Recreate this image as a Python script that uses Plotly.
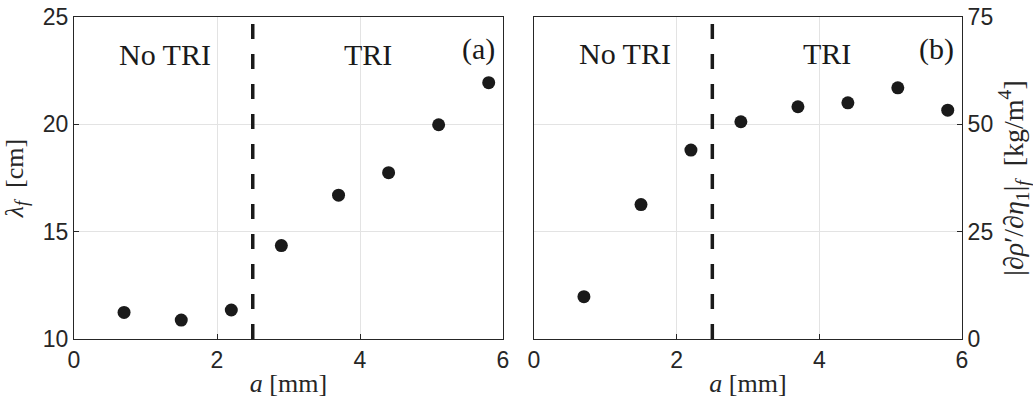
import plotly.graph_objects as go

# Tape diameter a [mm] and the measured quantities at each diameter
a_mm = [0.7, 1.5, 2.2, 2.9, 3.7, 4.4, 5.1, 5.8]
lambda_f_cm = [11.24, 10.88, 11.35, 14.35, 16.7, 17.75, 19.98, 21.94]
drho_deta = [9.85, 31.3, 44.0, 50.6, 54.1, 55.0, 58.5, 53.3]

# Threshold separating the two regimes
a_threshold = 2.5

x_ticks = [0, 2, 4, 6]
left_ticks = [10, 15, 20, 25]
right_ticks = [0, 25, 50, 75]

AX = "#262626"
GRID = "#e3e3e3"
SERIF = "Liberation Serif, DejaVu Serif, serif"
SANS = "Liberation Sans, Arial, sans-serif"

fig = go.Figure()

fig.add_trace(go.Scatter(x=a_mm, y=lambda_f_cm, mode="markers",
                         marker=dict(size=13, color="#1a1a1a"),
                         xaxis="x", yaxis="y", showlegend=False))
fig.add_trace(go.Scatter(x=a_mm, y=drho_deta, mode="markers",
                         marker=dict(size=13, color="#1a1a1a"),
                         xaxis="x2", yaxis="y2", showlegend=False))

# Dashed regime boundary in each panel
for xa, ya, ylo, yhi in [("x", "y", 10, 25), ("x2", "y2", 0, 75)]:
    fig.add_trace(go.Scatter(x=[a_threshold, a_threshold], y=[ylo, yhi],
                             mode="lines",
                             line=dict(color="#1a1a1a", width=3.5, dash="15px,15px"),
                             xaxis=xa, yaxis=ya, showlegend=False, hoverinfo="skip"))

common_x = dict(range=[0, 6], tickvals=x_ticks, showgrid=True, gridcolor=GRID,
                gridwidth=1, showline=True, linecolor=AX, linewidth=1, mirror=True,
                ticks="inside", ticklen=5, tickcolor=AX, automargin=False,
                tickfont=dict(family=SANS, size=23, color=AX), zeroline=False)
common_y = dict(showgrid=True, gridcolor=GRID, gridwidth=1, showline=True,
                linecolor=AX, linewidth=1, mirror=True, ticks="inside", ticklen=5,
                tickcolor=AX, tickfont=dict(family=SANS, size=23, color=AX),
                automargin=False, zeroline=False)

TITLE_FONT = dict(family=SERIF, size=26, color=AX)

fig.update_layout(
    width=1033, height=403,
    margin=dict(l=0, r=0, t=0, b=0),
    paper_bgcolor="white", plot_bgcolor="white",
    xaxis=dict(domain=[74/1033, 503/1033], anchor="y",
               title=dict(text="<i>a</i> [mm]", standoff=2, font=TITLE_FONT),
               **common_x),
    yaxis=dict(domain=[1 - 339/403, 1 - 17/403], anchor="x", range=[10, 25],
               tickvals=left_ticks,
               title=dict(text="<i>λ<sub>f</sub></i>  [cm]", standoff=12, font=TITLE_FONT),
               **common_y),
    xaxis2=dict(domain=[534/1033, 962/1033], anchor="y2",
                title=dict(text="<i>a</i> [mm]", standoff=2, font=TITLE_FONT),
                **common_x),
    yaxis2=dict(domain=[1 - 339/403, 1 - 17/403], anchor="x2", range=[0, 75],
                tickvals=right_ticks, side="right",
                title=dict(text="|∂<i>ρ</i>′/∂<i>η</i><sub>1</sub>|<sub><i>f</i></sub>  [kg/m<sup>4</sup>]",
                           standoff=12, font=dict(family=SERIF, size=28, color=AX)),
                **common_y),
)

ann_font = dict(family=SERIF, size=30, color="#1a1a1a")
for xr, yr, ytxt in [("x", "y", 23.27), ("x2", "y2", 66.4)]:
    fig.add_annotation(x=1.27, y=ytxt, xref=xr, yref=yr, text="No TRI",
                       showarrow=False, font=ann_font)
    fig.add_annotation(x=4.11, y=ytxt, xref=xr, yref=yr, text="TRI",
                       showarrow=False, font=ann_font)

fig.add_annotation(x=0.985, y=0.96, xref="x domain", yref="y domain", text="(a)",
                   showarrow=False, xanchor="right", yanchor="top", font=ann_font)
fig.add_annotation(x=0.985, y=0.96, xref="x2 domain", yref="y2 domain", text="(b)",
                   showarrow=False, xanchor="right", yanchor="top", font=ann_font)

fig.write_html("out.html")
